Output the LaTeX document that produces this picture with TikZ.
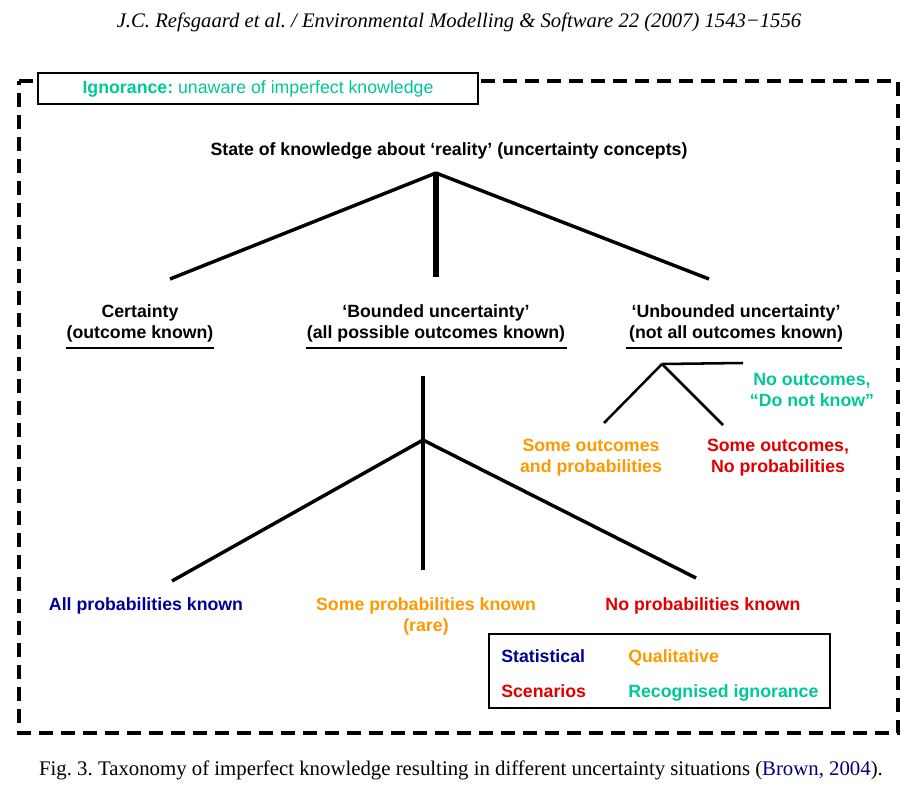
\documentclass[tikz,border=0pt]{standalone}
\usepackage{fontspec}
\setmainfont{Liberation Sans}
\newfontfamily\serifpaper{Liberation Serif}
\definecolor{igngreen}{RGB}{0,200,150}
\definecolor{qualorange}{RGB}{255,153,0}
\definecolor{scenred}{RGB}{225,0,0}
\definecolor{statnavy}{RGB}{0,0,150}
\definecolor{citenavy}{RGB}{0,0,120}
\tikzset{
  lbl/.style={font=\fontsize{13.3}{15.75}\selectfont\bfseries, inner sep=0pt, align=center},
  branch/.style={line width=2.6pt},
  stem/.style={line width=3.8pt},
  thinbranch/.style={line width=1.9pt},
  uline/.style={line width=1.5pt},
  frame/.style={line width=2.3pt, dash pattern=on 10.5pt off 6pt},
  boxline/.style={line width=1.4pt},
}
\frenchspacing
\begin{document}
\begin{tikzpicture}[x=0.75pt,y=-0.75pt]
\useasboundingbox (0,0) rectangle (917,795);
\fill[white] (0,0) rectangle (917,795);

% header
\node[inner sep=0pt, font=\serifpaper\itshape\fontsize{15.5}{18}\selectfont] (header) at (459,22)
  {J.C. Refsgaard et al. / Environmental Modelling \& Software 22 (2007) 1543−1556};

% dashed frame
\draw[frame] (19,81) -- (898,81) -- (898,733) -- (19,733) -- cycle;

% ignorance box
\node[draw, boxline, fill=white, minimum width=440*0.75pt, minimum height=31*0.75pt, inner sep=0pt,
      font=\fontsize{13.3}{15.75}\selectfont, text=igngreen] (ign) at (258,88.5)
  {\textbf{Ignorance:} unaware of imperfect knowledge};

% top node
\node[lbl] (state) at (449,151) {State of knowledge about ‘reality’ (uncertainty concepts)};
\coordinate (apex) at (436,173);
\coordinate (certTop) at (170,279);
\coordinate (boundTop) at (436,277);
\coordinate (unbTop) at (709,279);
\draw[branch] (apex) -- (certTop);
\draw[branch] (apex) -- (unbTop);
\draw[stem] (436,172) -- (boundTop);

% second level
\node[lbl] (cert) at (140,323.5) {Certainty\\(outcome known)};
\node[lbl] (bound) at (436,323.5) {‘Bounded uncertainty’\\(all possible outcomes known)};
\node[lbl] (unb) at (736,323.5) {‘Unbounded uncertainty’\\(not all outcomes known)};
\draw[uline] (66,348) -- (214,348);
\draw[uline] (306,348) -- (567,348);
\draw[uline] (626,348) -- (842,348);

% unbounded subtree
\coordinate (uapex) at (662,364);
\coordinate (uright) at (743,363);
\coordinate (uleft) at (604,423);
\coordinate (umid) at (723,425);
\draw[thinbranch] (uapex) -- (uright);
\draw[thinbranch] (uapex) -- (uleft);
\draw[thinbranch] (uapex) -- (umid);
\node[lbl, text=igngreen] (noout) at (812,390) {No outcomes,\\“Do not know”};
\node[lbl, text=qualorange] (someop) at (591,458) {Some outcomes\\and probabilities};
\node[lbl, text=scenred] (somenp) at (778,458) {Some outcomes,\\No probabilities};

% bounded subtree
\coordinate (btop) at (423,376);
\coordinate (bapex) at (423,440);
\coordinate (bbot) at (423,570);
\coordinate (bleft) at (172,581);
\coordinate (bright) at (696,578);
\draw[branch] (btop) -- (bbot);
\draw[branch] (bapex) -- (bleft);
\draw[branch] (bapex) -- (bright);
\node[lbl, anchor=base, text=statnavy] (allp) at (146,610) {All probabilities known};
\node[lbl, text=qualorange] (somep) at (426,616.5) {Some probabilities known\\(rare)};
\node[lbl, anchor=base, text=scenred] (nop) at (703,610) {No probabilities known};

% legend
\draw[boxline] (489,634) rectangle (830,708);
\node[lbl, anchor=base west, text=statnavy] (lstat) at (501,662) {Statistical};
\node[lbl, anchor=base west, text=qualorange] (lqual) at (628,662) {Qualitative};
\node[lbl, anchor=base west, text=scenred] (lscen) at (501,697) {Scenarios};
\node[lbl, anchor=base west, text=igngreen] (lign) at (628,697) {Recognised ignorance};

% caption
\node[inner sep=0pt, font=\serifpaper\fontsize{15.6}{18}\selectfont] (caption) at (461,770)
  {Fig. 3. Taxonomy of imperfect knowledge resulting in different uncertainty situations (\textcolor{citenavy}{Brown, 2004}).};
\end{tikzpicture}
\end{document}
